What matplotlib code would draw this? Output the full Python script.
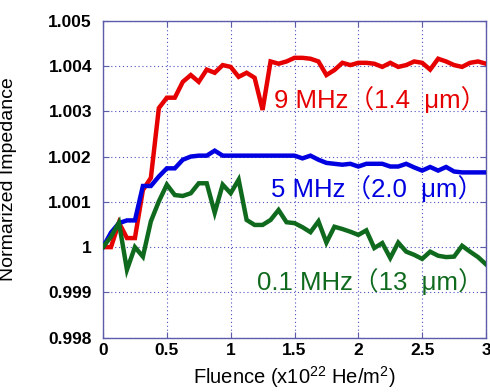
import numpy as np
import matplotlib
matplotlib.use("Agg")
import matplotlib.pyplot as plt

# Fluence (x10^22 He/m^2): 49 measurement points, step 0.0625
fluence = [i * 0.0625 for i in range(49)]

z_9mhz = [1.0000, 1.0000, 1.00054, 1.0002, 1.0002, 1.00126, 1.00153, 1.00307, 1.0033, 1.0033,
          1.00365, 1.0038, 1.00365, 1.00392, 1.00385, 1.00402, 1.00398, 1.00376, 1.00385, 1.00374,
          1.00303, 1.0041, 1.00405, 1.0041, 1.00418, 1.00418, 1.00416, 1.0041, 1.0038, 1.00391,
          1.00407, 1.00402, 1.00407, 1.00407, 1.00405, 1.00398, 1.00407, 1.00398, 1.00402, 1.0041,
          1.00407, 1.00392, 1.00416, 1.0041, 1.00402, 1.00398, 1.00407, 1.0041, 1.00405]

z_5mhz = [1.0000, 1.00032, 1.00053, 1.00059, 1.00059, 1.00135, 1.00135, 1.00156, 1.00174, 1.00174,
          1.00193, 1.0020, 1.00202, 1.00202, 1.00213, 1.00202, 1.00202, 1.00202, 1.00202, 1.00202,
          1.00202, 1.00202, 1.00202, 1.00202, 1.00202, 1.00196, 1.00202, 1.00193, 1.00186, 1.00184,
          1.00182, 1.00184, 1.00178, 1.00184, 1.00184, 1.00184, 1.00178, 1.00178, 1.00184, 1.00176,
          1.00169, 1.00177, 1.00169, 1.00177, 1.00167, 1.00165, 1.00165, 1.00165, 1.00165]

z_01mhz = [1.0000, 1.00023, 1.00054, 0.9995, 1.0000, 0.99979, 1.00057, 1.00101, 1.00138, 1.00115,
           1.00113, 1.00119, 1.00141, 1.00141, 1.00076, 1.00138, 1.00119, 1.00149, 1.0006, 1.00049,
           1.00049, 1.0006, 1.00082, 1.00055, 1.00053, 1.00044, 1.00033, 1.00057, 1.0001, 1.00045,
           1.0004, 1.00034, 1.00027, 1.00037, 0.99998, 1.00009, 0.99976, 1.0001, 0.9999, 0.99983,
           0.99974, 0.9999, 0.99981, 0.99978, 0.99979, 1.00003, 0.9999, 0.99978, 0.99962]

labels = ["9 MHz（1.4  μm）", "5 MHz（2.0  μm）", "0.1 MHz（13  μm）"]
label_x = [3.0, 2.98, 2.98]
label_y = [1.00327, 1.00130, 0.99925]
colors = ["#e60000", "#0000e0", "#0f6a1e"]

xticks = [0, 0.5, 1, 1.5, 2, 2.5, 3]
xticklabels = ["0", "0.5", "1", "1.5", "2", "2.5", "3"]
yticks = [0.998, 0.999, 1.000, 1.001, 1.002, 1.003, 1.004, 1.005]
yticklabels = ["0.998", "0.999", "1", "1.001", "1.002", "1.003", "1.004", "1.005"]

plt.rcParams['font.family'] = ['Liberation Sans', 'DejaVu Sans']
plt.rcParams['mathtext.default'] = 'regular'

fig = plt.figure(figsize=(4.9, 3.92), dpi=100)
ax = fig.add_axes([103/490, (392-337.7)/392, (486-103)/490, (337.7-20.7)/392])

for ys, c in zip([z_9mhz, z_5mhz, z_01mhz], colors):
    ax.plot(fluence, ys, color=c, lw=3.2, solid_joinstyle='miter', zorder=3)

ax.set_xlim(0, 3)
ax.set_ylim(0.998, 1.005)
ax.set_xticks(xticks)
ax.set_xticklabels(xticklabels, fontweight='bold', fontsize=12.5)
ax.set_yticks(yticks)
ax.set_yticklabels(yticklabels, fontweight='bold', fontsize=12.5)

spine_c = "#5c5caa"
for s in ax.spines.values():
    s.set_color(spine_c)
    s.set_linewidth(1.0)
ax.tick_params(direction='in', top=True, right=True, length=4, color=spine_c, labelcolor='black')
ax.tick_params(axis='y', pad=8)
ax.tick_params(axis='x', pad=4)
ax.grid(True, linestyle=(0, (1, 2.5)), color="#5050c0", linewidth=0.8, zorder=1)

ax.set_ylabel("Normarized Impedance", fontsize=14)
ax.yaxis.set_label_coords(-0.225, 0.5)
ax.set_xlabel("Fluence (x10$^{22}$ He/m$^{2}$)", fontsize=14.5, labelpad=4)

for t, xv, yv, c in zip(labels, label_x, label_y, colors):
    ax.text(xv, yv, t, color=c, fontsize=18.5, ha='right', va='center',
            family=['Liberation Sans', 'Noto Sans CJK JP'], zorder=4)

fig.savefig("out.png", dpi=100)
